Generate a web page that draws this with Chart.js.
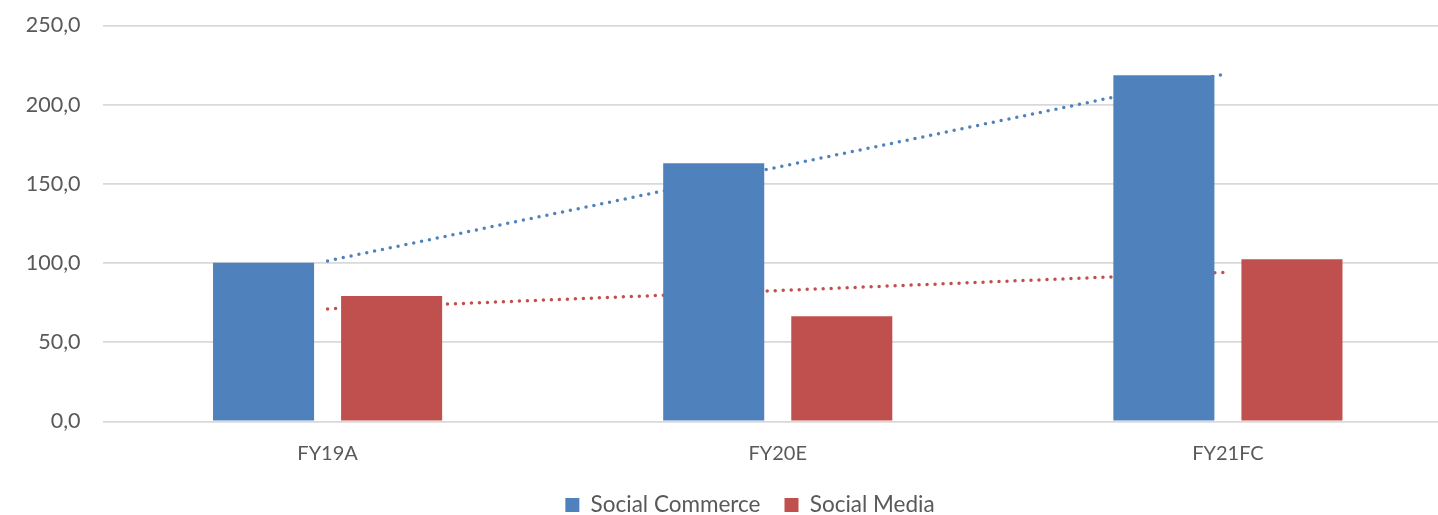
<!DOCTYPE html>
<html>
<head>
<meta charset="utf-8">
<title>Social Commerce vs Social Media</title>
<script src="https://cdn.jsdelivr.net/npm/chart.js@4.4.1/dist/chart.umd.min.js"></script>
<style>
  html, body { margin: 0; padding: 0; background: #ffffff; overflow: hidden; }
  #wrap { width: 1500px; height: 515px; }
</style>
</head>
<body>
<div id="wrap"><canvas id="chart" width="1500" height="515"></canvas></div>
<script>
// Fiscal-year categories and values per segment
const categories = ['FY19A', 'FY20E', 'FY21FC'];
const socialCommerce = [100.2, 163.0, 218.6];
const socialMedia = [79.2, 66.4, 102.4];
const yTicks = [0, 50, 100, 150, 200, 250];

const BLUE = '#4F81BD';
const RED = '#C0504D';
const TEXT = '#595959';

// Least-squares linear trend over category index
function linearTrend(values) {
  const n = values.length;
  const xs = values.map((_, i) => i);
  const mx = xs.reduce((a, b) => a + b, 0) / n;
  const my = values.reduce((a, b) => a + b, 0) / n;
  let num = 0, den = 0;
  for (let i = 0; i < n; i++) {
    num += (xs[i] - mx) * (values[i] - my);
    den += (xs[i] - mx) * (xs[i] - mx);
  }
  const slope = num / den;
  return xs.map(x => my + slope * (x - mx));
}

const trendStyle = {
  type: 'line',
  pointRadius: 0,
  pointHoverRadius: 0,
  borderWidth: 3.5,
  borderDash: [0, 8],
  borderCapStyle: 'round',
  fill: false,
  tension: 0,
  order: 1
};

new Chart(document.getElementById('chart'), {
  data: {
    labels: categories,
    datasets: [
      {
        type: 'bar',
        label: 'Social Commerce',
        data: socialCommerce,
        backgroundColor: BLUE,
        categoryPercentage: 0.569,
        barPercentage: 0.789,
        order: 0
      },
      {
        type: 'bar',
        label: 'Social Media',
        data: socialMedia,
        backgroundColor: RED,
        categoryPercentage: 0.569,
        barPercentage: 0.789,
        order: 0
      },
      Object.assign({ label: 'Trend Social Commerce', data: linearTrend(socialCommerce), borderColor: BLUE }, trendStyle),
      Object.assign({ label: 'Trend Social Media', data: linearTrend(socialMedia), borderColor: RED }, trendStyle)
    ]
  },
  options: {
    responsive: false,
    animation: false,
    devicePixelRatio: 1,
    layout: { padding: { top: 25.5, left: 0, right: 0, bottom: -11.25 } },
    plugins: {
      tooltip: { enabled: false },
      legend: {
        position: 'bottom',
        labels: {
          filter: item => item.datasetIndex < 2,
          boxWidth: 14,
          boxHeight: 14,
          padding: 24,
          color: TEXT,
          font: { family: 'Lato', size: 22.5 }
        }
      }
    },
    scales: {
      x: {
        grid: { display: false, drawTicks: false },
        border: { display: false },
        ticks: { color: TEXT, font: { family: 'Lato', size: 20 }, padding: 20 },
        afterFit: scale => { scale.height = 48.25; }
      },
      y: {
        min: 0,
        max: 250,
        afterBuildTicks: scale => { scale.ticks = yTicks.map(v => ({ value: v })); },
        grid: { color: '#D9D9D9', lineWidth: 1.8, drawTicks: false },
        border: { display: false },
        ticks: {
          color: TEXT,
          font: { family: 'Lato', size: 21.5 },
          padding: 22,
          callback: v => v.toFixed(1).replace('.', ',')
        },
        afterFit: scale => {
          scale.width = 102.5;
          scale.paddingTop = 0;
          scale.paddingBottom = 0;
        }
      },
      // empty right-hand margin box so the plot stops short of the canvas edge
      yRight: {
        position: 'right',
        min: 0,
        max: 250,
        grid: { display: false, drawTicks: false },
        border: { display: false },
        ticks: { display: false },
        afterFit: scale => {
          scale.width = 47;
          scale.paddingTop = 0;
          scale.paddingBottom = 0;
        }
      }
    }
  }
});
</script>
</body>
</html>
